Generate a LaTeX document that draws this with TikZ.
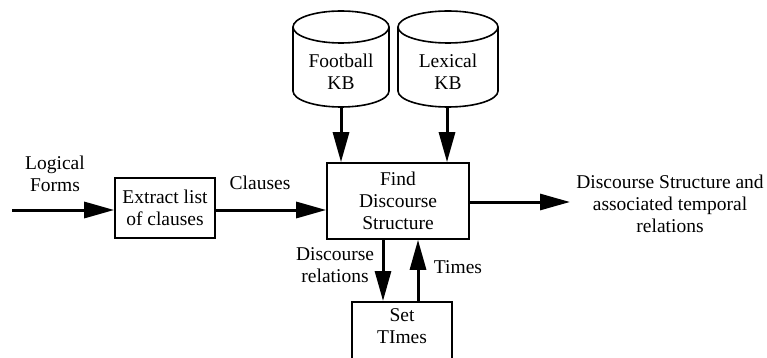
\documentclass[tikz,border=0pt]{standalone}
\usepackage{fontspec}
\setmainfont{Liberation Serif}
\usetikzlibrary{arrows.meta}
\begin{document}
\begin{tikzpicture}[x=1pt,y=-1pt, font=\fontsize{19.5}{22}\selectfont,
  box/.style={draw, line width=1.6pt, inner sep=0pt, align=center},
  arr/.style={line width=3pt, -{Triangle[length=30pt,width=16pt]}},
  cyl/.style={draw, line width=1.6pt},
  lbl/.style={align=center, inner sep=0pt}]
\useasboundingbox (0,0) rectangle (767,358);
% boxes
\node[box, minimum width=100, minimum height=60] (extract) at (165,208) {Extract list\\of clauses};
\node[box, minimum width=142, minimum height=76] (find) at (398,201) {Find\\Discourse\\Structure};
\node[box, minimum width=100, minimum height=64, anchor=north] (set) at (402,301) {};
\node[lbl] (settext) at (402,326) {Set\\TImes};
% cylinders
\draw[cyl] (341,27) ellipse [x radius=48, y radius=16];
\draw[cyl] (293,27) -- (293,91) arc[start angle=180, end angle=0, x radius=48, y radius=16] -- (389,27);
\node[lbl] (fkb) at (341,72) {Football\\KB};
\coordinate (fkbbot) at (341,107);
\draw[cyl] (448,27) ellipse [x radius=50, y radius=16];
\draw[cyl] (398,27) -- (398,91) arc[start angle=180, end angle=0, x radius=50, y radius=16] -- (498,27);
\node[lbl] (lkb) at (448,72) {Lexical\\KB};
\coordinate (lkbbot) at (447,107);
% labels
\node[lbl] (logical) at (55,174) {Logical\\Forms};
\node[lbl] (clauses) at (260,183) {Clauses};
\node[lbl] (drel) at (335,265) {Discourse\\relations};
\node[lbl] (times) at (458,267) {Times};
\node[lbl] (out) at (670,204) {Discourse Structure and\\associated temporal\\relations};
% connectors
\coordinate (in) at (12,210);
\coordinate (outend) at (570,202);
\coordinate (dr) at (383,0);
\coordinate (tm) at (418,0);
\draw[arr] (in) -- (in -| extract.west);
\draw[arr] (extract.east |- in) -- (in -| find.west);
\draw[arr] (find.east |- outend) -- (outend);
\draw[arr] (fkbbot) -- (fkbbot |- find.north);
\draw[arr] (lkbbot) -- (lkbbot |- find.north);
\draw[arr] (find.south -| dr) -- (set.north -| dr);
\draw[arr] (set.north -| tm) -- (find.south -| tm);
\end{tikzpicture}
\end{document}
